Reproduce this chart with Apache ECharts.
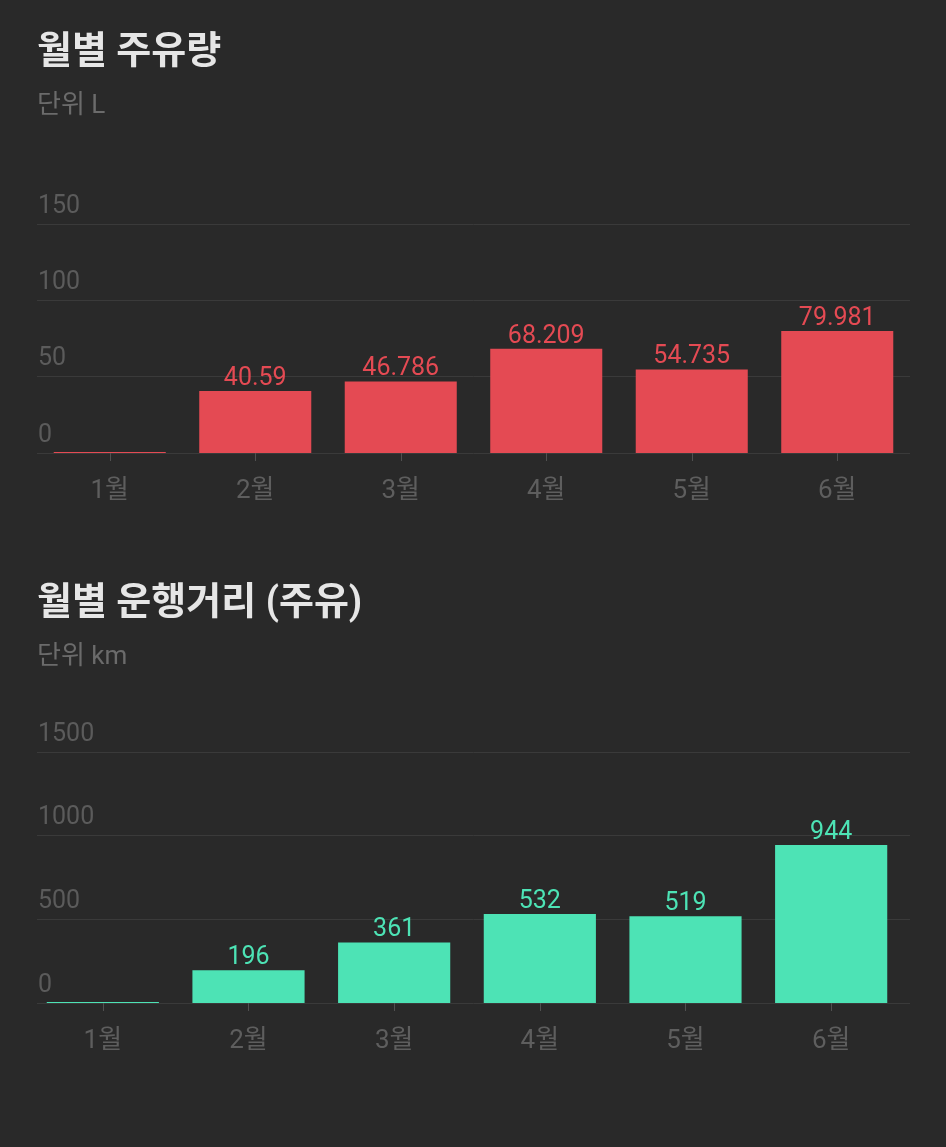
<!DOCTYPE html>
<html>
<head>
<meta charset="utf-8">
<script src="https://cdn.jsdelivr.net/npm/echarts@6/dist/echarts.min.js"></script>
<style>
  html, body { margin: 0; padding: 0; background: #292929; }
  #chart { width: 946px; height: 1147px; }
</style>
</head>
<body>
<div id="chart"></div>
<script>
var months = ['1월', '2월', '3월', '4월', '5월', '6월'];
var fuelLiters = [0, 40.59, 46.786, 68.209, 54.735, 79.981];
var distanceKm = [0, 196, 361, 532, 519, 944];
var fuelTicks = { min: 0, max: 150, interval: 50 };
var distTicks = { min: 0, max: 1500, interval: 500 };

var FONT = 'Roboto, "Noto Sans CJK KR", sans-serif';
var RED = '#e44a53';
var GREEN = '#4de3b5';

function buildValueAxis(gridIndex, ticks, show) {
  return {
    type: 'value',
    gridIndex: gridIndex,
    min: ticks.min,
    max: ticks.max,
    interval: ticks.interval,
    show: show,
    axisLine: { show: false },
    axisTick: { show: false },
    axisLabel: {
      inside: true,
      margin: 1,
      color: '#5b5b5b',
      fontSize: 25,
      fontFamily: FONT,
      verticalAlign: 'bottom',
      padding: [0, 0, 5, 0],
      formatter: function (v) { return String(v); }
    },
    splitLine: { lineStyle: { color: '#3a3a3a', width: 1 } }
  };
}

function buildCategoryAxis(gridIndex, show) {
  return {
    type: 'category',
    gridIndex: gridIndex,
    data: months,
    show: show,
    axisLine: { show: false },
    axisTick: { show: true, alignWithLabel: true, length: 8, lineStyle: { color: '#505050' } },
    axisLabel: { margin: 25, color: '#5e5e5e', fontSize: 26, fontFamily: FONT }
  };
}

function buildBar(xi, yi, values, color) {
  return {
    type: 'bar',
    xAxisIndex: xi,
    yAxisIndex: yi,
    data: values,
    barWidth: '77%',
    barMinHeight: 1,
    itemStyle: { color: color },
    label: {
      show: true,
      position: 'top',
      distance: 0,
      color: color,
      fontSize: 25,
      fontFamily: FONT,
      formatter: function (p) { return p.value ? String(p.value) : ''; }
    },
    silent: true
  };
}

function buildTitle(text, top, isMain) {
  return {
    text: text,
    left: 37,
    top: top,
    padding: 0,
    textStyle: {
      color: isMain ? '#e6e6e6' : '#6b6b6b',
      fontSize: isMain ? 38 : 26,
      fontWeight: isMain ? 'bold' : 'normal',
      fontFamily: FONT
    }
  };
}

var chart = echarts.init(document.getElementById('chart'), null, { renderer: 'canvas' });
chart.setOption({
  backgroundColor: '#292929',
  animation: false,
  title: [
    buildTitle('월별 주유량', 34, true),
    buildTitle('단위 L', 93, false),
    buildTitle('월별 운행거리 (주유)', 585, true),
    buildTitle('단위 km', 644, false)
  ],
  grid: [
    { left: 37, right: 36, top: 224, bottom: 694 },
    { left: 37, right: 36, top: 752, bottom: 144 },
    { left: 30, right: 42, top: 752, bottom: 144 }
  ],
  xAxis: [
    buildCategoryAxis(0, true),
    buildCategoryAxis(1, false),
    buildCategoryAxis(2, true)
  ],
  yAxis: [
    buildValueAxis(0, fuelTicks, true),
    buildValueAxis(1, distTicks, true),
    buildValueAxis(2, distTicks, false)
  ],
  series: [
    buildBar(0, 0, fuelLiters, RED),
    buildBar(2, 2, distanceKm, GREEN)
  ]
});
</script>
</body>
</html>
